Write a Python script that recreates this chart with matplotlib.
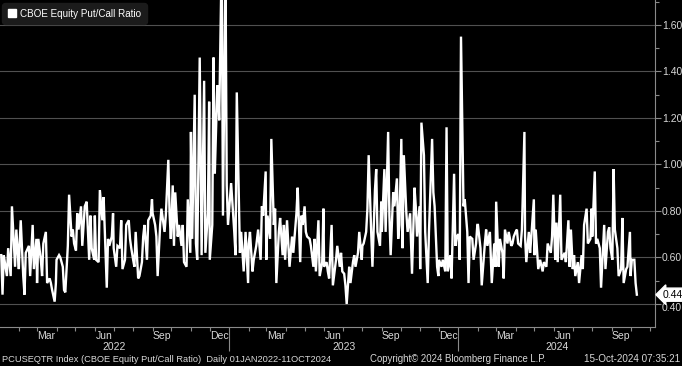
import numpy as np
import pandas as pd
import matplotlib
matplotlib.use("Agg")
import matplotlib.pyplot as plt
import matplotlib.dates as mdates
import matplotlib.transforms as mtransforms
from matplotlib.patches import Patch

# ---- data: CBOE Equity Put/Call Ratio, sampled values per month ----
ratio_2022 = [
    [0.61, 0.44, 0.61, 0.52, 0.64, 0.52, 0.82, 0.56, 0.72, 0.55],
    [0.64, 0.76, 0.52, 0.44, 0.62, 0.65, 0.52, 0.74, 0.55, 0.68],
    [0.49, 0.68, 0.59, 0.52, 0.66, 0.71, 0.49, 0.51, 0.49, 0.46, 0.41, 0.49],
    [0.59, 0.61, 0.60, 0.56, 0.46, 0.45, 0.65, 0.87, 0.69, 0.72, 0.66],
    [0.63, 0.79, 0.72, 0.82, 0.65, 0.82, 0.84, 0.59, 0.78, 0.64, 0.59],
    [0.78, 0.59, 0.58, 0.89, 0.76, 0.86, 0.47, 0.68, 0.65, 0.69, 0.79],
    [0.64, 0.56, 0.65, 0.64, 0.76, 0.55, 0.59, 0.74, 0.76, 0.68, 0.64],
    [0.59, 0.56, 0.71, 0.51, 0.52, 0.58, 0.69, 0.74, 0.59, 0.76, 0.78, 0.85],
    [0.79, 0.74, 0.69, 0.52, 0.74, 0.81, 0.71, 0.78, 1.02, 0.79, 0.68],
    [0.91, 0.65, 0.88, 0.69, 0.74, 0.65, 0.74, 0.58, 0.56, 0.85, 0.62],
    [1.14, 0.68, 1.30, 0.66, 0.59, 1.46, 0.61, 1.36, 0.62, 0.79, 1.27],
    [0.59, 0.74, 1.46, 0.96, 1.34, 1.28, 1.19, 1.90, 0.78, 1.85, 0.91, 0.74],
]
ratio_2023 = [
    [0.85, 0.92, 0.71, 0.61, 1.31, 0.62, 0.71, 0.54, 0.71, 0.49],
    [0.66, 0.71, 0.54, 0.59, 0.65, 0.72, 0.59, 0.82, 0.78, 0.97],
    [0.59, 0.78, 0.68, 1.11, 0.74, 0.81, 0.49, 0.71, 0.77, 0.61, 0.74, 0.59],
    [0.76, 0.66, 0.56, 0.69, 0.62, 0.79, 0.90, 0.58, 0.78, 0.74],
    [0.82, 0.71, 0.69, 0.68, 0.65, 0.56, 0.68, 0.54, 0.76, 0.52, 0.58, 0.81],
    [0.56, 0.58, 0.54, 0.51, 0.74, 0.48, 0.59, 0.65, 0.56, 0.62, 0.54],
    [0.53, 0.48, 0.40, 0.56, 0.49, 0.58, 0.61, 0.56, 0.62, 0.71, 0.59],
    [0.65, 0.66, 0.71, 0.81, 1.04, 0.71, 0.56, 0.89, 0.98, 0.71, 0.65, 0.84],
    [0.71, 0.98, 0.71, 1.14, 0.78, 0.61, 0.88, 0.82, 0.94, 0.68, 0.74],
    [1.11, 0.64, 1.04, 0.79, 0.71, 0.79, 0.53, 0.90, 0.82, 0.69, 0.82],
    [0.55, 1.18, 1.04, 0.71, 0.49, 0.71, 1.11, 0.88, 0.82, 0.56, 0.52],
    [0.59, 0.56, 0.59, 0.54, 1.16, 0.54, 0.61, 0.51, 0.96, 0.65, 0.69],
]
ratio_2024 = [
    [0.70, 0.59, 1.55, 0.82, 0.85, 0.71, 0.49, 0.69, 0.68, 0.59, 0.66, 0.74],
    [0.74, 0.64, 0.48, 0.66, 0.72, 0.65, 0.71, 0.49, 0.66, 0.56],
    [0.84, 0.56, 0.68, 0.62, 0.51, 0.72, 0.66, 0.71, 0.65, 0.66, 0.69],
    [0.71, 0.72, 0.66, 0.65, 0.72, 1.14, 0.69, 0.58, 0.71, 0.62, 0.69, 0.85],
    [0.61, 0.72, 0.55, 0.59, 0.54, 0.58, 0.56, 0.66, 0.62, 0.69, 0.87],
    [0.59, 0.75, 0.58, 0.87, 0.59, 0.62, 0.58, 0.76, 0.56, 0.72],
    [0.55, 0.61, 0.52, 0.58, 0.49, 0.61, 0.55, 0.74, 0.81, 0.66, 0.68, 0.81],
    [0.69, 0.97, 0.66, 0.68, 0.64, 0.47, 0.74, 0.55, 0.71, 0.73, 0.64],
    [0.59, 0.98, 0.72, 0.64, 0.52, 0.55, 0.77, 0.49, 0.55, 0.56, 0.71],
    [0.52, 0.59, 0.59, 0.49, 0.44],
]
series_start = "2022-01-03"
series_end = "2024-10-11"
y_ticks = [0.40, 0.60, 0.80, 1.00, 1.20, 1.40, 1.60]
month_labels = {3: "Mar", 6: "Jun", 9: "Sep", 12: "Dec"}
years = [2022, 2023, 2024]
title = "CBOE Equity Put/Call Ratio"
footer_left = "PCUSEQTR Index (CBOE Equity Put/Call Ratio)  Daily 01JAN2022-11OCT2024"
footer_mid = "Copyright\u00a9 2024 Bloomberg Finance L.P."
footer_right = "15-Oct-2024 07:35:21"

# ---- assemble dates (business days within each month) ----
all_bd = pd.bdate_range(series_start, series_end)
dates, values = [], []
for year, months in zip(years, [ratio_2022, ratio_2023, ratio_2024]):
    for m, vals in enumerate(months, start=1):
        bd = all_bd[(all_bd.year == year) & (all_bd.month == m)]
        idx = np.round(np.linspace(0, len(bd) - 1, len(vals))).astype(int)
        dates.extend(bd[idx])
        values.extend(vals)
dates = pd.DatetimeIndex(dates)
values = np.array(values)

# ---- figure ----
plt.rcParams['font.family'] = ['Liberation Sans', 'DejaVu Sans']
fig = plt.figure(figsize=(6.82, 3.66), dpi=100, facecolor="black")
ax = fig.add_axes([0.0, 0.1066, 0.9605, 0.8934], facecolor="black")

grid_c = "#505050"
text_c = "#d8d8d8"
axis_c = "#8a8a8a"

ax.plot(dates, values, color="white", lw=1.7, solid_joinstyle="miter", zorder=3)

ax.set_ylim(0.301, 1.7075)
ax.set_xlim(pd.Timestamp("2022-01-01"), pd.Timestamp("2024-11-09"))

for v in y_ticks:
    ax.axhline(v, color=grid_c, lw=0.8, zorder=1)

ax.yaxis.tick_right()
ax.set_yticks(y_ticks)
ax.set_yticklabels([f"{v:.2f}" for v in y_ticks])
ax.set_yticks(np.arange(0.4, 1.71, 0.1), minor=True)
ax.tick_params(axis="y", which="major", colors=axis_c, labelcolor=text_c,
               labelsize=7.5, length=4, width=0.8, pad=1, direction="out")
ax.tick_params(axis="y", which="minor", colors=axis_c, length=3, width=0.8, direction="out")
# nudge lowest label down, as the last-value tag sits just above it
lbl0 = ax.get_yticklabels()[0]
lbl0.set_transform(lbl0.get_transform() +
                   mtransforms.ScaledTranslation(0, -3 / 100, fig.dpi_scale_trans))

# x axis: month ticks, year separators
month_starts = pd.date_range("2022-02-01", "2024-11-01", freq="MS")
ax.set_xticks(month_starts, minor=True)
year_starts = [pd.Timestamp(f"{y}-01-01") for y in years[1:]]
ax.set_xticks(year_starts)
ax.set_xticklabels([])
ax.tick_params(axis="x", which="minor", colors=axis_c, length=3, width=0.8, direction="out")
ax.tick_params(axis="x", which="major", colors=axis_c, length=17.5, width=0.8, direction="out")

for s in ["top", "left"]:
    ax.spines[s].set_visible(False)
ax.spines["bottom"].set_color(axis_c)
ax.spines["right"].set_color(axis_c)
ax.spines["bottom"].set_linewidth(0.8)
ax.spines["right"].set_linewidth(0.8)

trans = mtransforms.blended_transform_factory(ax.transData, ax.transAxes)
for ms in pd.date_range("2022-01-01", "2024-10-01", freq="MS"):
    if ms.month in month_labels:
        mid = ms + pd.Timedelta(days=15)
        ax.text(mid, -0.0275, month_labels[ms.month], transform=trans, ha="center",
                va="center", color=text_c, fontsize=7.5, clip_on=False)
xmin, xmax = ax.get_xlim()
for y in years:
    a = mdates.date2num(pd.Timestamp(f"{y}-01-01"))
    b = min(mdates.date2num(pd.Timestamp(f"{y+1}-01-01")), xmax)
    ax.text((a + b) / 2, -0.062, str(y), transform=trans, ha="center", va="center",
            color=text_c, fontsize=7.5, clip_on=False)

# last value label
tr2 = mtransforms.blended_transform_factory(ax.transAxes, ax.transData)
ax.text(1.012, values[-1], f"{values[-1]:.2f}", transform=tr2, ha="left", va="center",
        fontsize=7.5, color="black", clip_on=False, zorder=5,
        bbox=dict(boxstyle="larrow,pad=0.15", facecolor="white", edgecolor="white"))

leg = ax.legend(handles=[Patch(facecolor="white", edgecolor="white")], labels=[title],
                loc="upper left", bbox_to_anchor=(0.002, 0.995), frameon=True,
                facecolor="#1b1b1b", edgecolor="#1b1b1b", framealpha=1,
                fontsize=7.1, handlelength=0.8, handleheight=0.8, handletextpad=0.35,
                borderpad=0.5, borderaxespad=0.2, labelcolor="white")
leg.get_frame().set_boxstyle("round,pad=0.1,rounding_size=0.3")

fy = 0.019
fig.text(0.003, fy, footer_left, color=text_c, fontsize=6.7, ha="left", va="center")
fig.text(0.542, fy, footer_mid, color=text_c, fontsize=6.9, ha="left", va="center")
fig.text(0.997, fy, footer_right, color=text_c, fontsize=7.1, ha="right", va="center")

fig.savefig("out.png", dpi=100, facecolor="black")
